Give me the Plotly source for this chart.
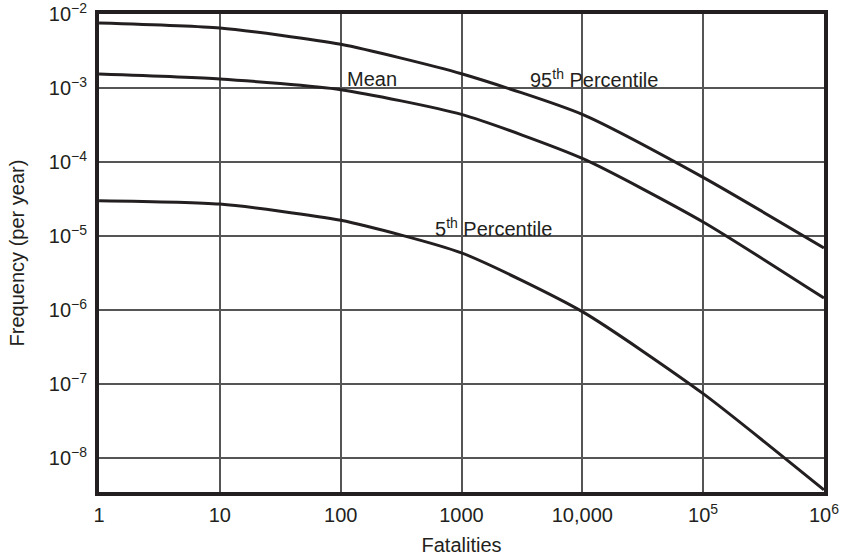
import math
import plotly.graph_objects as go

fatalities = [1, 10, 100, 1000, 10000, 1e5, 1e6]
p95 = [7.6e-3, 6.5e-3, 3.9e-3, 1.56e-3, 4.4e-4, 6.2e-5, 6.9e-6]
mean = [1.55e-3, 1.33e-3, 9.5e-4, 4.4e-4, 1.12e-4, 1.55e-5, 1.45e-6]
p5 = [3.0e-5, 2.7e-5, 1.63e-5, 5.9e-6, 9.5e-7, 7.4e-8, 3.7e-9]

x_tickvals = [1, 10, 100, 1000, 10000, 1e5, 1e6]
x_ticktext = ["1", "10", "100", "1000", "10,000", "10<sup>5</sup>", "10<sup>6</sup>"]
y_tickvals = [1e-2, 1e-3, 1e-4, 1e-5, 1e-6, 1e-7, 1e-8]
y_ticktext = ["10<sup>−2</sup>", "10<sup>−3</sup>", "10<sup>−4</sup>", "10<sup>−5</sup>",
              "10<sup>−6</sup>", "10<sup>−7</sup>", "10<sup>−8</sup>"]

labels = [("Mean", 108, 1.33e-3), ("95<sup>th</sup> Percentile", 3550, 1.33e-3),
          ("5<sup>th</sup> Percentile", 582, 1.29e-5)]

ink = "#231f20"
FONT = "Liberation Sans, Arial, Helvetica"
fig = go.Figure()
for ys in (p95, mean, p5):
    fig.add_trace(go.Scatter(x=fatalities, y=ys, mode="lines",
                             line=dict(color=ink, width=3, shape="spline", smoothing=0.6),
                             showlegend=False, hoverinfo="skip"))

for txt, xv, yv in labels:
    fig.add_annotation(x=math.log10(xv), y=math.log10(yv), xref="x", yref="y", text=txt,
                       showarrow=False, xanchor="left", yanchor="middle",
                       font=dict(family=FONT, size=20, color=ink))

axis_common = dict(type="log", showline=True, mirror=True, linewidth=4, linecolor=ink,
                   showgrid=True, gridcolor="#555", gridwidth=1.5, ticks="", zeroline=False,
                   automargin=False, ticklabeloverflow="allow",
                   tickfont=dict(family=FONT, size=20, color=ink),
                   title_font=dict(family=FONT, size=20, color=ink))

fig.update_xaxes(range=[-0.0005, 6.0005], tickmode="array", tickvals=x_tickvals,
                 ticktext=x_ticktext, ticklabelstandoff=2, title_text="Fatalities",
                 title_standoff=14, **axis_common)
fig.update_yaxes(range=[-8.46, -1.999], tickmode="array", tickvals=y_tickvals,
                 ticktext=y_ticktext, ticklabelstandoff=4, title_text="Frequency (per year)",
                 title_standoff=20, **axis_common)

fig.update_layout(width=844, height=557, margin=dict(l=99, r=20, t=14, b=65),
                  plot_bgcolor="white", paper_bgcolor="white")

fig.write_html("out.html", config={"displayModeBar": False},
               post_script="document.body.style.margin='0';")
